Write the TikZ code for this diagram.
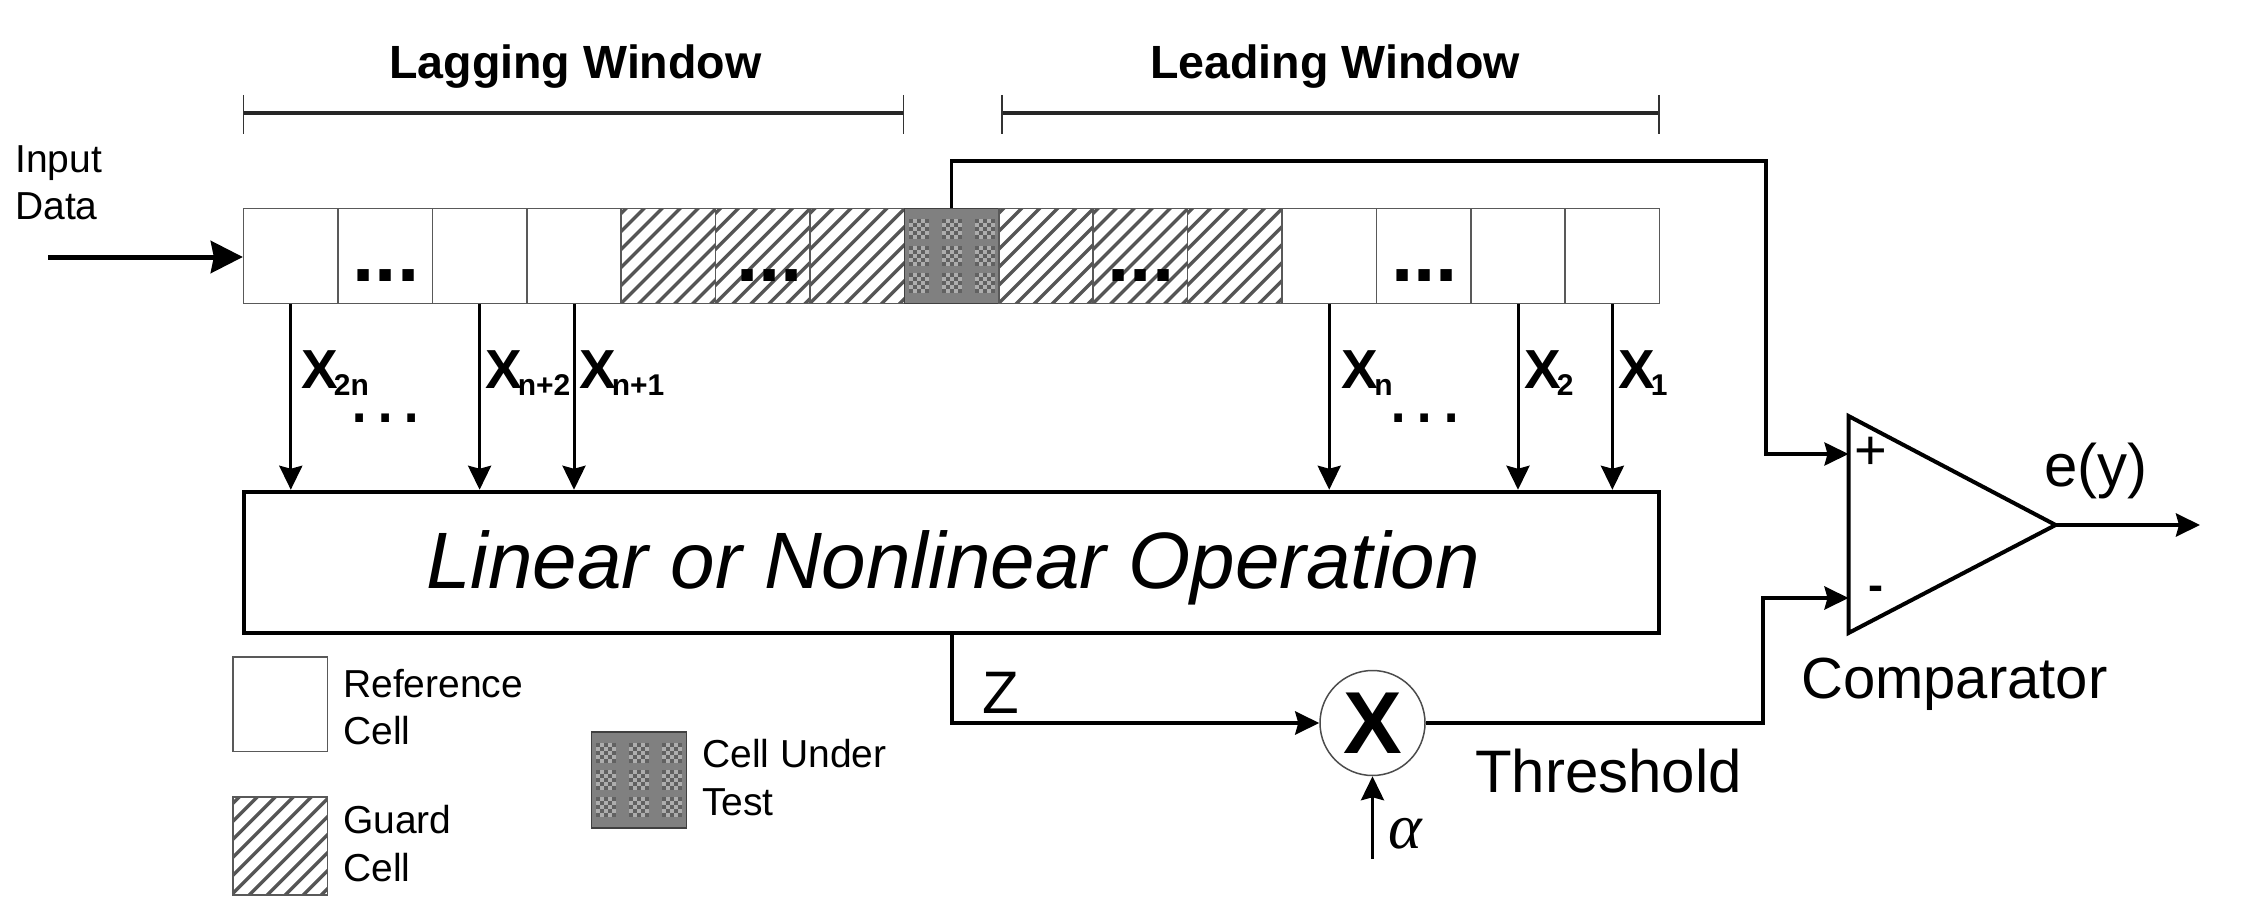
\documentclass[tikz,border=0pt]{standalone}
\usepackage{fontspec}
\setmainfont{Liberation Sans}
\newfontfamily\alphafont{Liberation Serif}
\usetikzlibrary{arrows.meta,calc}
\definecolor{hatchgray}{HTML}{555555}
\newcommand{\fs}[1]{\fontsize{#1pt}{#1pt}\selectfont}
\newcommand{\xsub}[1]{\textbf{X}\kern-4pt\raisebox{-7pt}{\fs{30}\bfseries #1}}
\tikzset{
  refcell/.style={draw=black!65,line width=1.5pt,fill=white,inner sep=0pt,minimum width=94.4pt,minimum height=94.5pt},
  guardcell/.style={refcell,path picture={
    \begin{scope}[shift={(path picture bounding box.center)}]
      \foreach \d in {-162,-144,...,162}
        \draw[hatchgray,line width=3.4pt] (\d-70,70) -- (\d+70,-70);
    \end{scope}}},
  cutcell/.style={refcell,draw=black!75,fill=black!50,path picture={
    \begin{scope}[shift={(path picture bounding box.center)}]
      \foreach \cx in {-33,0,33} \foreach \cy in {-27,0,27}
        \foreach \i in {-2,...,2} \foreach \j in {-2,...,2} {
          \pgfmathparse{int(mod(\i+\j+4,2))}
          \ifnum\pgfmathresult=0
            \fill[black!62] (\cx+4*\i-2,\cy+4*\j-2) rectangle ++(4,4);
          \else
            \fill[black!32] (\cx+4*\i-2,\cy+4*\j-2) rectangle ++(4,4);
          \fi
        }
    \end{scope}}},
  txt/.style={inner sep=0pt,anchor=base west,font=\fs{39}},
  boldtitle/.style={txt,font=\fs{46.6}\bfseries},
  biglab/.style={txt,font=\fs{60}},
  xlab/.style={txt,font=\fs{55}},
  celldots/.style={inner sep=0pt,anchor=base,font=\fs{80}\bfseries},
  gapdots/.style={inner sep=0pt,anchor=base,font=\fs{80}},
  conn/.style={line width=3pt,-{Stealth[length=24pt,width=23pt,inset=3pt]}},
  brack/.style={line width=3.5pt,draw=black!85},
  tick/.style={line width=1.5pt,draw=black!80},
  opbox/.style={draw,line width=4.5pt,fill=white,inner sep=0pt},
  mult/.style={circle,draw=black!70,line width=1.5pt,inner sep=0pt,minimum size=105pt,font=\fs{88}\bfseries},
}
\begin{document}
\begin{tikzpicture}[x=1pt,y=-1pt]
\useasboundingbox (0,0) rectangle (2246,912);

% window brackets
\coordinate (lagL) at (243.6,113); \coordinate (lagR) at (903.7,113);
\coordinate (leadL) at (1002,113); \coordinate (leadR) at (1659,113);
\draw[brack] (lagL) -- (lagR);
\draw[brack] (leadL) -- (leadR);
\foreach \p in {lagL,lagR,leadL,leadR}
  \draw[tick] ($(\p)+(0,-18)$) -- ($(\p)+(0,21)$);
\node[boldtitle] (lagT) at (389,79) {Lagging Window};
\node[boldtitle] (leadT) at (1150,79) {Leading Window};

% input
\node[txt] (inp1) at (15,173) {Input};
\node[txt] (inp2) at (15,220) {Data};
\coordinate (inStart) at (48,257);

% cell strip
\foreach \i/\st in {1/refcell,2/refcell,3/refcell,4/refcell,5/guardcell,6/guardcell,7/guardcell,8/cutcell,9/guardcell,10/guardcell,11/guardcell,12/refcell,13/refcell,14/refcell,15/refcell}
  \node[\st] (c\i) at ({243.6+94.4*(\i-0.5)},256) {};
\draw[line width=5pt,-{Stealth[length=32pt,width=32pt,inset=3pt]}] (inStart) -- (inStart -| c1.west);

\node[celldots] (d1) at (386,281) {...};
\node[celldots] (d2) at (769.5,281) {...};
\node[celldots] (d3) at (1141,281) {...};
\node[celldots] (d4) at (1424.5,281) {...};

% operation box
\node[opbox,minimum width=1415pt,minimum height=141pt] (op) at (951.3,562.5) {};
\node[txt,font=\fs{80}\itshape] (opT) at (426,588) {Linear or Nonlinear Operation};

% taps
\draw[conn] (c1.south) -- (c1.south |- op.north);
\draw[conn] (c3.south) -- (c3.south |- op.north);
\draw[conn] (c4.south) -- (c4.south |- op.north);
\draw[conn] (c12.south) -- (c12.south |- op.north);
\draw[conn] (c14.south) -- (c14.south |- op.north);
\draw[conn] (c15.south) -- (c15.south |- op.north);

\node[xlab] (x2n) at (301,388) {\xsub{2n}};
\node[xlab] (xn2) at (485,388) {\xsub{n+2}};
\node[xlab] (xn1) at (579,388) {\xsub{n+1}};
\node[xlab] (xn) at (1341.5,388) {\xsub{n}};
\node[xlab] (x2) at (1524,388) {\xsub{2}};
\node[xlab] (x1) at (1618,388) {\xsub{1}};
\node[gapdots] (g1) at (385.5,422) {.\kern4pt.\kern4pt.};
\node[gapdots] (g2) at (1425,422) {.\kern4pt.\kern4pt.};

% comparator
\coordinate (cpTop) at (1848.5,416);
\coordinate (cpBot) at (1848.5,633);
\coordinate (cpTip) at (2055.6,525);
\coordinate (cpPlus) at (1848.5,454);
\coordinate (cpMinus) at (1848.5,598);
\coordinate (outEnd) at (2200,525);
\coordinate (loopTop) at (1766,161);
\draw[line width=4pt,line join=miter] (cpTop) -- (cpTip) -- (cpBot) -- cycle;
\node[inner sep=0pt,font=\fs{56}] (plus) at (1871,453) {+};
\node[inner sep=0pt,font=\fs{45}\bfseries] (minus) at (1876,593) {-};

\draw[line width=4pt,-{Stealth[length=24pt,width=23pt,inset=3pt]}] (cpTip) -- (outEnd);
\draw[line width=3.5pt,-{Stealth[length=24pt,width=23pt,inset=3pt]}]
  (c8.north) |- (loopTop) |- (cpPlus);

% multiplier
\node[mult] (mul) at (1372.5,723) {X};
\draw[line width=4pt,-{Stealth[length=24pt,width=23pt,inset=3pt]}]
  (op.south -| c8) |- (mul.west);
\coordinate (elbow) at (1763,723);
\draw[line width=4pt,-{Stealth[length=24pt,width=23pt,inset=3pt]}]
  (mul.east) -- (elbow) |- (cpMinus);
\coordinate (alphaIn) at (1372.5,859);
\draw[conn] (alphaIn) -- (mul.south);
\node[txt,font=\fs{64}\alphafont\itshape] (al) at (1388,848) {α};
\node[biglab] (zl) at (982,713) {Z};
\node[biglab] (thr) at (1475,792) {Threshold};
\node[biglab,font=\fs{58}] (cmpl) at (1801,698) {Comparator};
\node[biglab] (ey) at (2044,486) {e(y)};

% legend
\node[refcell,minimum width=94.5pt] (lr) at (280.3,704) {};
\node[guardcell,minimum width=94.5pt,minimum height=98pt] (lg) at (280.3,846) {};
\node[cutcell,minimum width=95pt,minimum height=96pt] (lc) at (639,780) {};
\node[txt] (lr1) at (343,697) {Reference};
\node[txt] (lr2) at (343,744) {Cell};
\node[txt] (lg1) at (343,833) {Guard};
\node[txt] (lg2) at (343,881) {Cell};
\node[txt] (lc1) at (702,767) {Cell Under};
\node[txt] (lc2) at (702,815) {Test};
\end{tikzpicture}
\end{document}
